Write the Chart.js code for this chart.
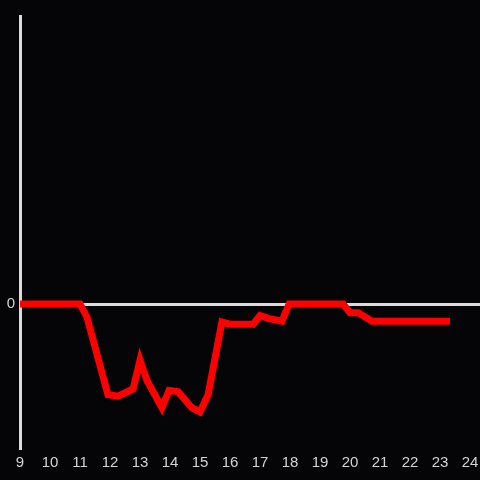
<!DOCTYPE html>
<html>
<head>
<meta charset="utf-8">
<script src="https://cdn.jsdelivr.net/npm/chart.js@4/dist/chart.umd.min.js"></script>
<style>
  html, body { margin: 0; padding: 0; background: #050407; }
  #wrap { width: 480px; height: 480px; }
</style>
</head>
<body>
<div id="wrap"><canvas id="lineChart"></canvas></div>
<script>
// hours of the day and the value read at each hour
var hours  = [9, 11, 11.23, 11.93, 12.27, 12.77, 13.0, 13.23, 13.73, 13.97, 14.27, 14.73, 15.0, 15.27, 15.73, 16.0, 16.77, 17.0, 17.27, 17.73, 17.97, 19.77, 20.0, 20.27, 20.73, 23.33];
var values = [0, 0, -0.09, -0.63, -0.64, -0.59, -0.39, -0.53, -0.72, -0.60, -0.61, -0.72, -0.75, -0.63, -0.125, -0.14, -0.14, -0.08, -0.10, -0.12, 0, 0, -0.06, -0.06, -0.12, -0.12];
var yTicks = [0];

var points = hours.map(function (h, i) { return { x: h, y: values[i] }; });

var axisColor = '#dcdcdc';
var labelColor = '#d4d4d4';

new Chart(document.getElementById('lineChart'), {
  type: 'line',
  data: {
    datasets: [{
      data: points,
      borderColor: '#ff0000',
      borderWidth: 7,
      pointRadius: 0,
      tension: 0,
      fill: false
    }]
  },
  options: {
    responsive: true,
    maintainAspectRatio: false,
    animation: false,
    layout: { padding: { top: 16, left: 0, right: 0, bottom: 0 } },
    plugins: { legend: { display: false }, tooltip: { enabled: false } },
    scales: {
      x: {
        type: 'linear',
        min: 9,
        max: 24.333,
        ticks: {
          stepSize: 1,
          includeBounds: false,
          color: labelColor,
          padding: 6,
          font: { family: 'Liberation Sans', size: 15 }
        },
        grid: { display: false, drawTicks: false },
        border: { display: false },
        afterFit: function (s) { s.height = 32; s.paddingLeft = 0; s.paddingRight = 0; }
      },
      y: {
        min: -1,
        max: 2,
        afterBuildTicks: function (s) { s.ticks = yTicks.map(function (v) { return { value: v }; }); },
        ticks: {
          color: labelColor,
          padding: 5,
          font: { family: 'Liberation Sans', size: 15 }
        },
        grid: {
          drawTicks: false,
          lineWidth: 3,
          color: function (ctx) { return ctx.tick && ctx.tick.value === 0 ? axisColor : 'rgba(0,0,0,0)'; }
        },
        border: { display: true, color: axisColor, width: 3 },
        afterFit: function (s) { s.width = 20; s.paddingTop = 0; s.paddingBottom = 0; }
      }
    }
  }
});
</script>
</body>
</html>
